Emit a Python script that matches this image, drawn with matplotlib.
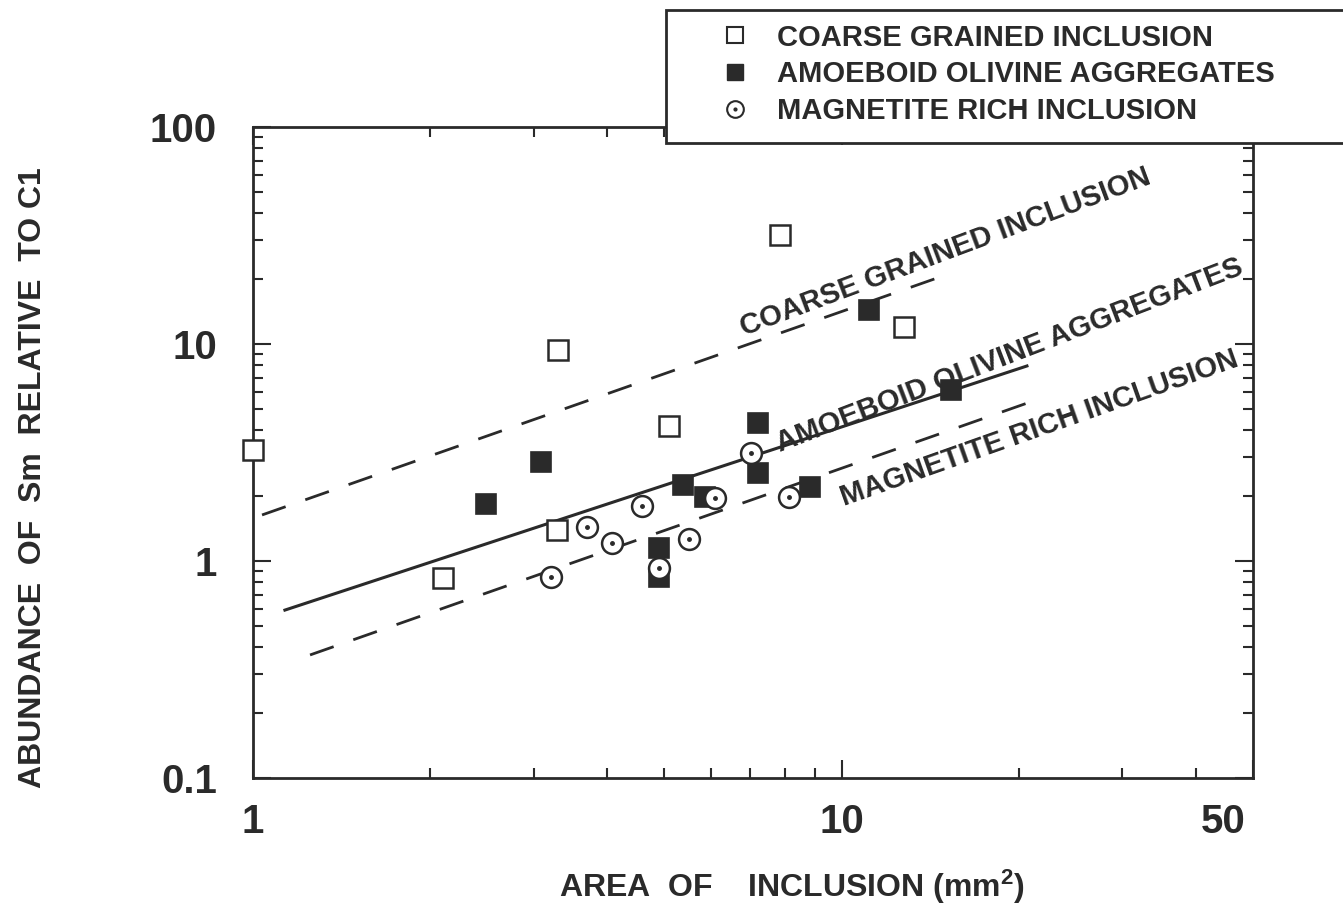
import matplotlib
matplotlib.use('Agg')
import matplotlib.pyplot as plt
from matplotlib.lines import Line2D
from matplotlib.patches import Rectangle
from matplotlib.legend_handler import HandlerTuple
from matplotlib.transforms import ScaledTranslation

plt.rcParams['font.family'] = ['Liberation Sans', 'DejaVu Sans']
plt.rcParams['font.weight'] = 'bold'
plt.rcParams['mathtext.fontset'] = 'custom'
plt.rcParams['mathtext.rm'] = 'Liberation Sans:bold'
plt.rcParams['mathtext.it'] = 'Liberation Sans:bold'

INK = '#2a2a2a'

# data (area in mm2, Sm relative to C1)
coarse_x = [1.0, 3.30, 2.10, 3.29, 5.09, 7.86, 12.76]
coarse_y = [3.25, 9.4, 0.835, 1.39, 4.19, 31.8, 12.0]

amoeboid_x = [2.49, 3.09, 4.90, 4.90, 5.38, 5.86, 7.21, 7.21, 8.84, 11.13, 15.34]
amoeboid_y = [1.83, 2.86, 1.15, 0.84, 2.24, 1.97, 4.32, 2.54, 2.19, 14.35, 6.14]

magnetite_x = [3.21, 3.69, 4.07, 4.58, 4.90, 5.51, 6.10, 7.02, 8.14]
magnetite_y = [0.84, 1.43, 1.21, 1.79, 0.93, 1.26, 1.95, 3.15, 1.97]

# trend lines
coarse_fit_x = [1.036, 14.5]
coarse_fit_y = [1.63, 20.1]
amoeboid_fit_x = [1.133, 20.65]
amoeboid_fit_y = [0.594, 7.92]
magnetite_fit_x = [1.25, 20.7]
magnetite_fit_y = [0.369, 5.35]

labels = ['COARSE GRAINED INCLUSION', 'AMOEBOID OLIVINE AGGREGATES',
          'MAGNETITE RICH INCLUSION']

W, H = 1343, 906
fig = plt.figure(figsize=(W / 100, H / 100), dpi=100)
ax = fig.add_axes([253 / W, 1 - 778 / H, 1000 / W, 651 / H])
ax.set_xscale('log')
ax.set_yscale('log')
ax.set_xlim(1, 50)
ax.set_ylim(0.1, 100)

dash = (9, 7.5)
ax.plot(coarse_fit_x, coarse_fit_y, color=INK, lw=2.0, dashes=dash)
ax.plot(amoeboid_fit_x, amoeboid_fit_y, color=INK, lw=2.2)
ax.plot(magnetite_fit_x, magnetite_fit_y, color=INK, lw=2.0, dashes=dash)

ax.plot(coarse_x, coarse_y, ls='none', marker='s', ms=14, mfc='white',
        mec=INK, mew=1.8, clip_on=False, zorder=4)
ax.plot(amoeboid_x, amoeboid_y, ls='none', marker='s', ms=14, mfc=INK,
        mec=INK, mew=1.2, zorder=4)
ax.plot(magnetite_x, magnetite_y, ls='none', marker='o', ms=15, mfc='white',
        mec=INK, mew=1.8, zorder=5)
ax.plot(magnetite_x, magnetite_y, ls='none', marker='o', ms=2.5, mfc=INK,
        mec=INK, zorder=6)

txt = dict(fontsize=21, color=INK, ha='center', va='center',
           rotation_mode='anchor')
ax.text(15.0, 26.5, labels[0], rotation=20.5, **txt)
ax.text(19.3, 8.9, labels[1], rotation=21, **txt)
ax.text(21.7, 4.1, labels[2], rotation=19.5, **txt)

ax.set_xticks([1, 10, 50])
ax.set_xticklabels(['1', '10', '50'])
ax.set_yticks([0.1, 1, 10, 100])
ax.set_yticklabels(['0.1', '1', '10', '100'])
ax.tick_params(which='both', direction='in', top=True, right=True,
               color=INK, width=1.5)
ax.tick_params(which='major', length=13, labelsize=29, labelcolor=INK)
ax.tick_params(which='minor', length=7)
ax.tick_params(axis='y', which='major', pad=26)
ax.tick_params(axis='x', which='major', pad=18)
last = ax.get_xticklabels()[-1]
last.set_transform(last.get_transform() +
                   ScaledTranslation(-30 / 100, 0, fig.dpi_scale_trans))
for sp in ax.spines.values():
    sp.set_linewidth(2)
    sp.set_color(INK)

fig.text(33 / W, 1 - 478 / H, 'ABUNDANCE  OF  Sm  RELATIVE  TO C1',
         rotation=90, fontsize=23, color=INK, ha='center', va='center')
fig.text(792 / W, 1 - 887 / H, r'AREA  OF    INCLUSION (mm$^{2}$)',
         fontsize=23, color=INK, ha='center', va='center')

# legend box, running off the right edge
fig.patches.append(Rectangle((666 / W, 1 - 143 / H), 700 / W, 133 / H,
                             transform=fig.transFigure, facecolor='white',
                             edgecolor=INK, lw=2, zorder=10))
h_open = Line2D([], [], ls='none', marker='s', ms=11, mfc='white', mec=INK, mew=1.5)
h_fill = Line2D([], [], ls='none', marker='s', ms=11, mfc=INK, mec=INK)
h_circ = Line2D([], [], ls='none', marker='o', ms=12, mfc='white', mec=INK, mew=1.5)
h_dot = Line2D([], [], ls='none', marker='o', ms=2, mfc=INK, mec=INK)
leg = fig.legend([h_open, h_fill, (h_circ, h_dot)], labels,
                 loc='upper left', bbox_to_anchor=(707 / W, 1 - 9 / H),
                 frameon=False, fontsize=21, handlelength=0.9,
                 handletextpad=1.0, labelspacing=0.3, borderpad=0,
                 handler_map={tuple: HandlerTuple(ndivide=1)})
for t in leg.get_texts():
    t.set_color(INK)
leg.set_zorder(11)

fig.savefig('out.png', dpi=100)
